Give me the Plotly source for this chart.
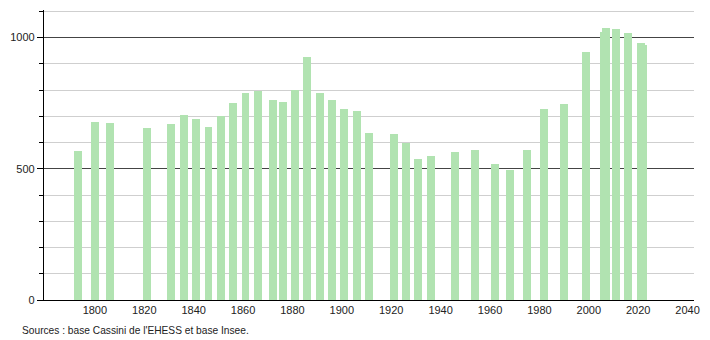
import plotly.graph_objects as go

years = [1793, 1800, 1806, 1821, 1831, 1836, 1841, 1846, 1851, 1856,
         1861, 1866, 1872, 1876, 1881, 1886, 1891, 1896, 1901, 1906,
         1911, 1921, 1926, 1931, 1936, 1946, 1954, 1962, 1968, 1975,
         1982, 1990, 1999, 2006, 2007, 2011, 2016, 2021, 2022]
population = [567, 678, 674, 656, 670, 704, 689, 659, 700, 749,
              789, 798, 761, 754, 802, 925, 790, 761, 727, 721,
              636, 631, 600, 536, 548, 563, 571, 520, 495, 571,
              727, 746, 945, 1022, 1038, 1032, 1016, 981, 971]

x_ticks = [1800, 1820, 1840, 1860, 1880, 1900, 1920, 1940, 1960, 1980, 2000, 2020, 2040]
y_ticks = [0, 500, 1000]
source_text = "Sources : base Cassini de l'EHESS et base Insee."

bar_color = "#b1e3b1"

fig = go.Figure()
fig.add_trace(go.Bar(
    x=years, y=population, width=3.2,
    marker=dict(color=bar_color, line=dict(width=0)),
    hoverinfo="x+y",
))

fig.update_layout(
    width=710, height=340,
    margin=dict(l=44, r=10, t=10, b=40),
    paper_bgcolor="white", plot_bgcolor="white",
    showlegend=False,
    bargap=0,
    font=dict(family="Liberation Sans, Arial, sans-serif", size=11, color="#222"),
    xaxis=dict(
        range=[1779.4, 2042.6],
        tickmode="array", tickvals=x_ticks,
        ticks="", showgrid=False, zeroline=False,
        showline=True, linecolor="black", linewidth=1.3,
        tickfont=dict(size=11, color="#222"),
    ),
    yaxis=dict(
        range=[0, 1105],
        tickmode="array", tickvals=y_ticks,
        ticks="outside", ticklen=6, tickcolor="black", tickwidth=1,
        showgrid=True, gridcolor="#444", gridwidth=1,
        zeroline=False,
        showline=True, linecolor="black", linewidth=1.3,
        minor=dict(dtick=100, tick0=0, ticks="outside", ticklen=4,
                   tickcolor="black", showgrid=True, gridcolor="#cfcfcf", gridwidth=1),
        tickfont=dict(size=11, color="#222"),
    ),
    annotations=[dict(
        text=source_text, x=(20 - 44) / 656, y=(300 - 330) / 290,
        xref="paper", yref="paper",
        showarrow=False, font=dict(size=10.2, color="#222"),
        xanchor="left", yanchor="middle",
    )],
)

fig.write_html("out.html")
